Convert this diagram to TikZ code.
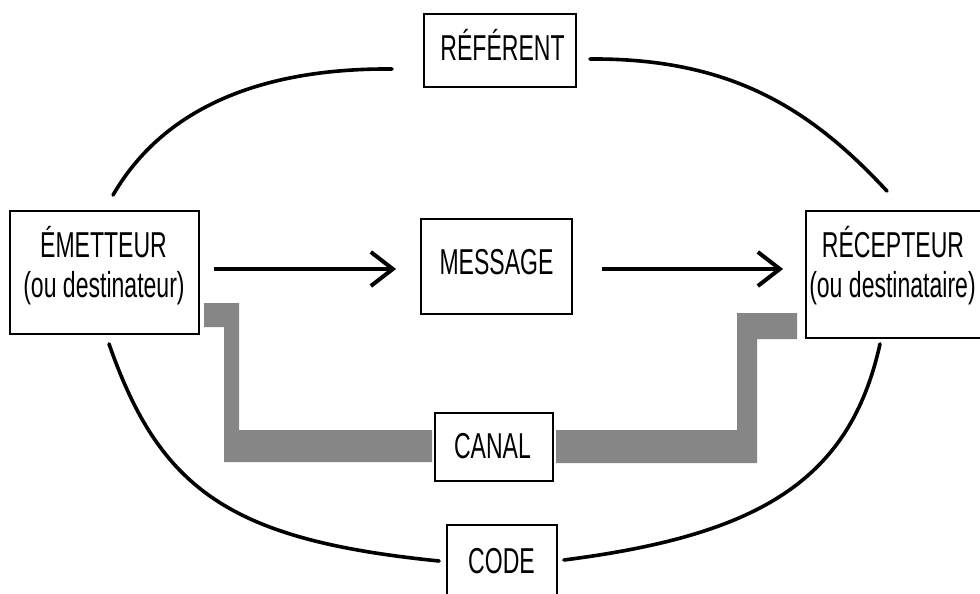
\documentclass[tikz,border=0pt]{standalone}
\usepackage{fontspec}
\usetikzlibrary{arrows.meta}
\newfontfamily\narrowfont[FakeStretch=0.64]{Liberation Sans}
\definecolor{chan}{RGB}{134,134,134}
\begin{document}
\begin{tikzpicture}[x=1pt,y=-1pt,
  box/.style={draw=black, line width=1.8pt, fill=white, inner sep=0pt},
  txt/.style={anchor=base, inner sep=0pt, font=\narrowfont\fontsize{36}{40}\selectfont},
  link/.style={line width=3.6pt, line cap=round},
  arr/.style={line width=4pt, -{Straight Barb[length=22pt,width=34pt]}}]
\useasboundingbox (0,0) rectangle (980,594);
\fill[white] (0,0) rectangle (980,594);
% channel
\fill[chan] (204,303) -- (239,303) -- (239,430) -- (432,430) -- (432,462) -- (224,462) -- (224,327) -- (204,327) -- cycle;
\fill[chan] (556,430) -- (737,430) -- (737,313) -- (797,313) -- (797,339) -- (757,339) -- (757,463) -- (556,463) -- cycle;
% boxes
\node[box, minimum width=189pt, minimum height=123pt] (emet) at (104.5,272.5) {};
\node[box, minimum width=179pt, minimum height=127pt] (recep) at (895.5,274.5) {};
\node[box, minimum width=152pt, minimum height=73pt] (refer) at (500,50.5) {};
\node[box, minimum width=151pt, minimum height=95pt] (mess) at (496.5,266.5) {};
\node[box, minimum width=118pt, minimum height=68pt] (canal) at (494,447) {};
\node[box, minimum width=110pt, minimum height=75pt] (code) at (502,562.5) {};
% texts
\node[txt] (emet1) at (103.5,257) {ÉMETTEUR};
\node[txt] (emet2) at (104,297) {(ou destinateur)};
\node[txt] (recep1) at (893,257) {RÉCEPTEUR};
\node[txt] (recep2) at (892.5,297) {(ou destinataire)};
\node[txt] (refert) at (502.5,60) {RÉFÉRENT};
\node[txt] (messt) at (496.5,274) {MESSAGE};
\node[txt] (canalt) at (492.5,458) {CANAL};
\node[txt] (codet) at (501.5,573) {CODE};
% arrows
\draw[arr, shorten <=14pt, shorten >=24pt] ([yshift=3.5pt]emet.east) -- ([yshift=-2.5pt]mess.west);
\draw[arr, shorten <=29pt, shorten >=22pt] ([yshift=-2.5pt]mess.east) -- ([yshift=5.5pt]recep.west);
% curves
\draw[link] ([xshift=8.5pt,yshift=15pt]emet.north) .. controls (168,100) and (275,68) .. ([xshift=-31pt,yshift=-18.5pt]refer.west);
\draw[link] ([xshift=13pt,yshift=-8.5pt]refer.east) .. controls (730,58) and (810,108) .. ([xshift=-8.5pt,yshift=19pt]recep.north);
\draw[link] ([xshift=4.5pt,yshift=-9pt]emet.south) .. controls (160,490) and (230,540) .. ([xshift=-7pt,yshift=1.5pt]code.west);
\draw[link] ([xshift=-15.5pt,yshift=-5pt]recep.south) .. controls (850,480) and (760,535) .. ([xshift=6pt,yshift=2.5pt]code.east);
\end{tikzpicture}
\end{document}
